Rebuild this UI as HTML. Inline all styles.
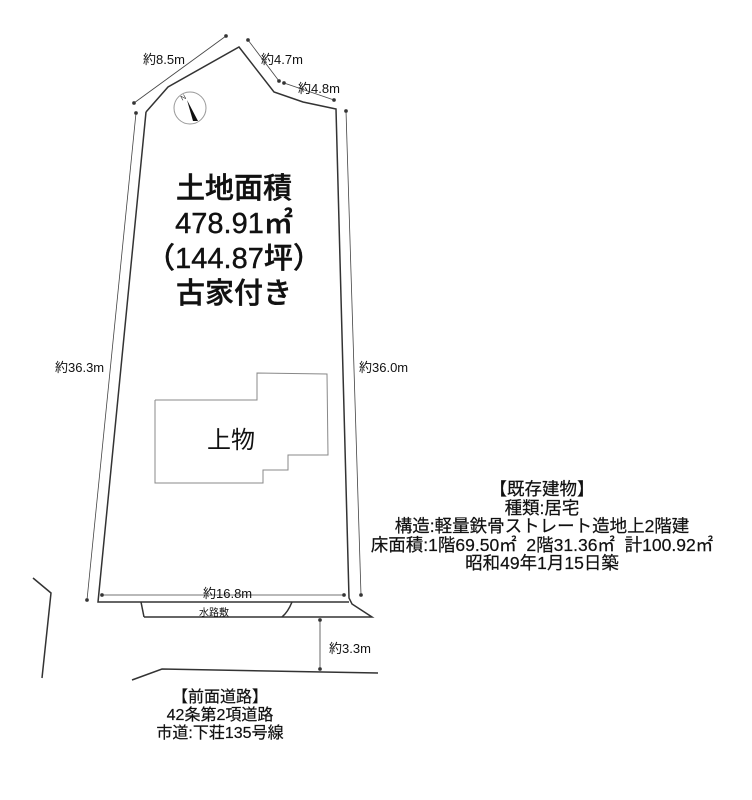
<!DOCTYPE html>
<html><head><meta charset="utf-8"><style>
body{margin:0;background:#fff;width:752px;height:800px;overflow:hidden;position:relative;font-family:"Liberation Sans","Noto Sans CJK JP",sans-serif;color:#111}
.t{position:absolute;white-space:nowrap}
</style></head><body>
<svg width="752" height="800" style="position:absolute;left:0;top:0">
<g fill="none" stroke="#333" stroke-width="1.5">
<polyline points="146,112 168,87 239,47 274,92 303,102 336,109 349,598 352,604 372,617 144,617"/>
<polyline points="146,112 98,602 349,602"/>
<polyline points="141,602 144,617"/>
<path d="M292,602 Q288,612 282,617"/>
<polyline points="132,680 162,669 378,673"/>
<polyline points="33,578 51,593 42,678"/>
</g>
<polyline fill="none" stroke="#888" stroke-width="1" points="155,400 257,400 257,373 327,374 328,455 288,455 288,470 263,470 263,483 155,483 155,400"/>
<g stroke="#444" stroke-width="0.8" fill="#333">
<line x1="134" y1="103" x2="226" y2="36"/><circle cx="134" cy="103" r="1.5"/><circle cx="226" cy="36" r="1.5"/>
<line x1="248" y1="40" x2="279" y2="81"/><circle cx="248" cy="40" r="1.5"/><circle cx="279" cy="81" r="1.5"/>
<line x1="284" y1="83" x2="334" y2="100"/><circle cx="284" cy="83" r="1.5"/><circle cx="334" cy="100" r="1.5"/>
<line x1="136" y1="113" x2="87" y2="600"/><circle cx="136" cy="113" r="1.5"/><circle cx="87" cy="600" r="1.5"/>
<line x1="346" y1="111" x2="361" y2="595"/><circle cx="346" cy="111" r="1.5"/><circle cx="361" cy="595" r="1.5"/>
<line x1="102" y1="595" x2="344" y2="595"/><circle cx="102" cy="595" r="1.5"/><circle cx="344" cy="595" r="1.5"/>
<line x1="320" y1="620" x2="320" y2="669"/><circle cx="320" cy="620" r="1.5"/><circle cx="320" cy="669" r="1.5"/>
</g>
<circle cx="190" cy="108" r="16" fill="none" stroke="#999" stroke-width="1"/>
<polygon points="187,100 198,121 193,121" fill="#111"/>
<text x="181" y="100" font-size="7" fill="#333" transform="rotate(-30 183 98)">N</text>
</svg>
<div class="t" style="left:143px;top:49px;font-size:13px">約8.5m</div>
<div class="t" style="left:261px;top:49px;font-size:13px">約4.7m</div>
<div class="t" style="left:298px;top:78px;font-size:13px">約4.8m</div>
<div class="t" style="left:55px;top:357px;font-size:13px">約36.3m</div>
<div class="t" style="left:359px;top:357px;font-size:13px">約36.0m</div>
<div class="t" style="left:203px;top:583px;font-size:13px">約16.8m</div>
<div class="t" style="left:199px;top:604px;font-size:10px">水路敷</div>
<div class="t" style="left:329px;top:638px;font-size:13px">約3.3m</div>
<div class="t" style="left:94px;top:172px;width:280px;text-align:center;font-size:29px;line-height:35px;font-weight:500;-webkit-text-stroke:0.4px #111">土地面積<br>478.91㎡<br>（144.87坪）<br>古家付き</div>
<div class="t" style="left:207px;top:420px;font-size:24px">上物</div>
<div class="t" style="left:336px;top:480px;width:412px;text-align:center;font-size:17.5px;line-height:18.5px;-webkit-text-stroke:0.2px #111">【既存建物】<br>種類:居宅<br>構造:軽量鉄骨ストレート造地上2階建<br>床面積:1階69.50㎡&nbsp;&nbsp;2階31.36㎡&nbsp;&nbsp;計100.92㎡<br>昭和49年1月15日築</div>
<div class="t" style="left:140px;top:689px;width:160px;text-align:center;font-size:16px;line-height:18px;-webkit-text-stroke:0.2px #111">【前面道路】<br>42条第2項道路<br>市道:下荘135号線</div>
</body></html>
